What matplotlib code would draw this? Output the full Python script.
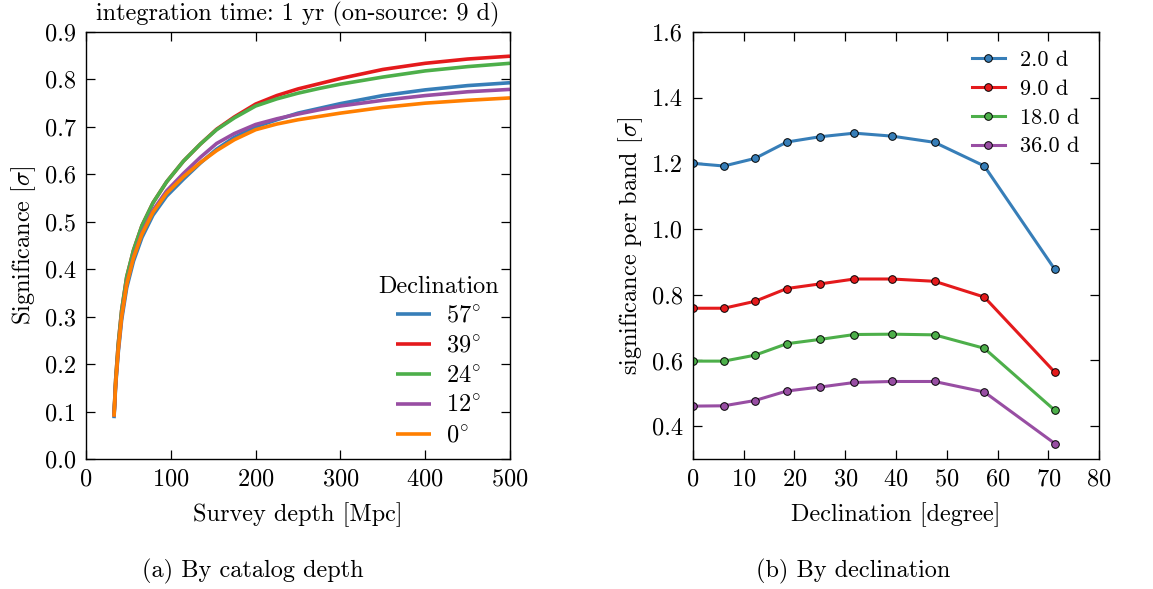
import matplotlib
matplotlib.use("Agg")
import matplotlib.pyplot as plt
import numpy as np

# Computer Modern look (cmr10 ships with matplotlib)
plt.rcParams['font.family'] = ['cmr10', 'DejaVu Serif']
plt.rcParams['mathtext.fontset'] = 'cm'
plt.rcParams['axes.formatter.use_mathtext'] = True
plt.rcParams['axes.unicode_minus'] = False
FS = 17.5
matplotlib.rcParams.update({'font.size': FS})

# ---- panel (a): significance vs survey depth ----
depth = [33, 35, 38, 42, 48, 56, 66, 79, 95, 115, 135, 154, 175, 200, 225, 250, 275, 300,
         350, 400, 450, 500]
sig_57 = [0.086, 0.155, 0.224, 0.293, 0.361, 0.417, 0.467, 0.514, 0.554, 0.590, 0.624, 0.653,
          0.678, 0.700, 0.715, 0.729, 0.739, 0.749, 0.766, 0.778, 0.787, 0.793]
sig_39 = [0.092, 0.168, 0.242, 0.313, 0.384, 0.440, 0.492, 0.540, 0.584, 0.628, 0.664, 0.695,
          0.721, 0.748, 0.766, 0.780, 0.791, 0.802, 0.821, 0.834, 0.843, 0.849]
sig_24 = [0.092, 0.168, 0.242, 0.313, 0.384, 0.440, 0.492, 0.540, 0.584, 0.628, 0.664, 0.694,
          0.719, 0.744, 0.759, 0.771, 0.781, 0.790, 0.805, 0.818, 0.827, 0.834]
sig_12 = [0.089, 0.160, 0.231, 0.301, 0.370, 0.426, 0.477, 0.524, 0.565, 0.602, 0.636, 0.665,
          0.686, 0.705, 0.717, 0.727, 0.736, 0.744, 0.756, 0.766, 0.774, 0.779]
sig_0 = [0.089, 0.160, 0.230, 0.300, 0.368, 0.424, 0.474, 0.520, 0.560, 0.595, 0.625, 0.650,
         0.673, 0.694, 0.706, 0.715, 0.722, 0.729, 0.741, 0.750, 0.756, 0.761]
dec_labels = ["57", "39", "24", "12", "0"]

# ---- panel (b): significance per band vs declination ----
declination = [0, 6.1, 12.2, 18.5, 25.0, 31.8, 39.2, 47.6, 57.4, 71.3]
band_2d = [1.200, 1.192, 1.215, 1.265, 1.281, 1.292, 1.283, 1.264, 1.192, 0.877]
band_9d = [0.759, 0.759, 0.780, 0.819, 0.833, 0.848, 0.848, 0.841, 0.793, 0.564]
band_18d = [0.598, 0.598, 0.616, 0.651, 0.664, 0.679, 0.680, 0.678, 0.637, 0.448]
band_36d = [0.461, 0.462, 0.478, 0.507, 0.519, 0.533, 0.536, 0.536, 0.504, 0.347]
window_labels = ["2.0 d", "9.0 d", "18.0 d", "36.0 d"]

blue = "#377eb8"
red = "#e41a1c"
green = "#4daf4a"
purple = "#984ea3"
orange = "#ff7f00"

fig = plt.figure(figsize=(11.53, 5.89), dpi=100)
ax1 = fig.add_axes([0.0746, 0.2207, 0.3677, 0.7250])
ax2 = fig.add_axes([0.6010, 0.2207, 0.3522, 0.7250])

for ax in (ax1, ax2):
    ax.tick_params(direction='in', length=6.5, width=0.9, top=True, right=True, pad=7,
                   labelsize=FS)
    for sp in ax.spines.values():
        sp.set_linewidth(1.0)

# panel (a)
curves = [sig_57, sig_39, sig_24, sig_12, sig_0]
cols_a = [blue, red, green, purple, orange]
for ys, c, lab in zip(curves, cols_a, dec_labels):
    ax1.plot(depth, ys, color=c, lw=2.6, label=r"$%s^{\circ}$" % lab, solid_capstyle='butt')

ax1.set_xlim(0, 500)
ax1.set_ylim(0.0, 0.9)
ax1.set_xticks(range(0, 501, 100))
ax1.set_yticks(np.arange(0, 0.91, 0.1))
ax1.yaxis.set_major_formatter(matplotlib.ticker.FormatStrFormatter('%.1f'))
ax1.set_xlabel("Survey depth [Mpc]", labelpad=8)
ax1.set_ylabel(r"Significance [$\sigma$]", labelpad=5)
ax1.set_title("integration time: 1 yr (on-source: 9 d)", pad=8, fontsize=FS)
ax1.legend(title="Declination", frameon=False, loc='lower right',
           bbox_to_anchor=(0.997, 0.005), handlelength=1.45, labelspacing=0.32,
           handletextpad=0.6, fontsize=FS, title_fontsize=FS, borderaxespad=0.0)

# panel (b)
bands = [band_2d, band_9d, band_18d, band_36d]
cols_b = [blue, red, green, purple]
for ys, c, lab in zip(bands, cols_b, window_labels):
    ax2.plot(declination, ys, color=c, lw=2.2, marker='o', markersize=5.5,
             markeredgecolor='black', markeredgewidth=0.7, label=lab)

ax2.set_xlim(0, 80)
ax2.set_ylim(0.3, 1.6)
ax2.set_xticks(range(0, 81, 10))
ax2.set_yticks(np.arange(0.4, 1.61, 0.2))
ax2.yaxis.set_major_formatter(matplotlib.ticker.FormatStrFormatter('%.1f'))
ax2.set_xlabel("Declination [degree]", labelpad=8)
ax2.set_ylabel(r"significance per band [$\sigma$]", labelpad=5)
ax2.legend(frameon=False, loc='upper right', bbox_to_anchor=(0.975, 0.978), numpoints=1,
           handlelength=1.5, labelspacing=0.42, handletextpad=0.7, fontsize=16,
           borderaxespad=0.0)

# subfigure captions
fig.text(253 / 1153, 1 - 571 / 589, "(a) By catalog depth", ha='center', va='center', fontsize=FS)
fig.text(853 / 1153, 1 - 571 / 589, "(b) By declination", ha='center', va='center', fontsize=FS)

plt.savefig("out.png", dpi=100)
